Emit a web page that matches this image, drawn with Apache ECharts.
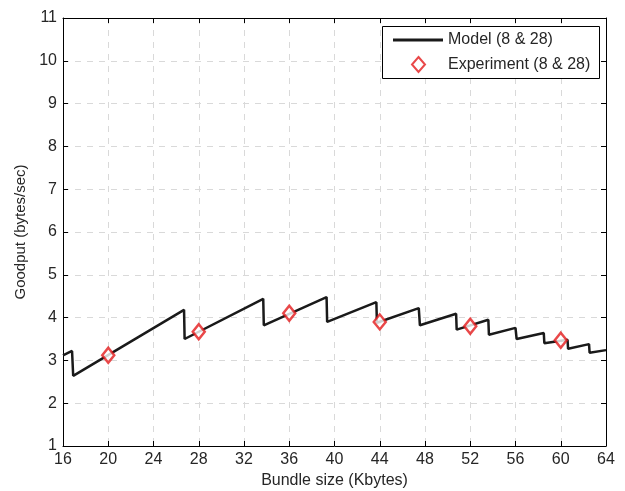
<!DOCTYPE html>
<html>
<head>
<meta charset="utf-8">
<script src="https://cdn.jsdelivr.net/npm/echarts@6/dist/echarts.min.js"></script>
<style>
  html, body { margin: 0; padding: 0; background: #fff; }
  #chart { width: 625px; height: 491px; }
</style>
</head>
<body>
<div id="chart"></div>
<script>
// model curve: [bundle size (KB), goodput]
const modelData = [
  [16, 3.12], [16.8, 3.22], [16.9, 2.64],
  [26.7, 4.18], [26.75, 3.5],
  [33.7, 4.44], [33.75, 3.82],
  [39.3, 4.48], [39.35, 3.9],
  [43.7, 4.36], [43.75, 3.88],
  [47.45, 4.22], [47.55, 3.82],
  [50.75, 4.09], [50.8, 3.72],
  [53.6, 3.95], [53.65, 3.6],
  [56.0, 3.76], [56.1, 3.5],
  [58.5, 3.64], [58.55, 3.4],
  [60.6, 3.48], [60.65, 3.27],
  [62.5, 3.38], [62.55, 3.18],
  [64, 3.24],
];
const experimentData = [
  [20, 3.12], [28, 3.67], [36, 4.1], [44, 3.9], [52, 3.8], [60, 3.47],
];
const seriesNames = ["Model (8 & 28)", "Experiment (8 & 28)"];

const font = "Liberation Sans, Arial, sans-serif";
const textColor = "#262626";
const red = "#e41a1c";

const chart = echarts.init(document.getElementById("chart"));

// matlab look: ticks inside, box all round
const boxAxis = {
  axisLine: { show: true, onZero: false, lineStyle: { color: "#000", width: 1 } },
  axisTick: { show: true, inside: true, length: 5, lineStyle: { color: "#000" } },
};

chart.setOption({
  backgroundColor: "#fff",
  animation: false,
  grid: { left: 63, right: 19, top: 18, bottom: 45, outerBoundsMode: "none", containLabel: false },
  xAxis: [
    {
      type: "value",
      min: 16, max: 64, interval: 4,
      position: "bottom",
      ...boxAxis,
      axisLabel: { color: textColor, fontFamily: font, fontSize: 16, margin: 6 },
      splitLine: { show: true, lineStyle: { color: "#d9d9d9", type: [6, 6] } },
      name: "Bundle size (Kbytes)",
      nameLocation: "middle",
      nameGap: 27,
      nameTextStyle: { color: textColor, fontFamily: font, fontSize: 16 },
    },
    {
      type: "value",
      min: 16, max: 64, interval: 4,
      position: "top",
      ...boxAxis,
      axisLabel: { show: false },
      splitLine: { show: false },
    },
  ],
  yAxis: [
    {
      type: "value",
      min: 1, max: 11, interval: 1,
      position: "left",
      ...boxAxis,
      axisLabel: { color: textColor, fontFamily: font, fontSize: 16, margin: 6 },
      splitLine: { show: true, lineStyle: { color: "#d9d9d9", type: [6, 6] } },
      name: "Goodput (bytes/sec)",
      nameLocation: "middle",
      nameGap: 35,
      nameTextStyle: { color: textColor, fontFamily: font, fontSize: 15 },
    },
    {
      type: "value",
      min: 1, max: 11, interval: 1,
      position: "right",
      ...boxAxis,
      axisLabel: { show: false },
      splitLine: { show: false },
    },
  ],
  // legend box frame
  graphic: [
    {
      type: "rect",
      z: 1,
      shape: { x: 382.5, y: 26.5, width: 217, height: 52 },
      style: { fill: "#fff", stroke: "#000", lineWidth: 1 },
    },
  ],
  legend: [
    {
      left: 393,
      top: 32,
      padding: 0,
      itemWidth: 50,
      itemHeight: 14,
      textStyle: { color: textColor, fontFamily: font, fontSize: 16 },
      data: [{ name: seriesNames[0], icon: "path://M0,0 L50,0 L50,3 L0,3 Z" }],
    },
    {
      left: 411,
      top: 56,
      padding: 0,
      itemWidth: 13,
      itemHeight: 15,
      textStyle: {
        color: textColor, fontFamily: font, fontSize: 16,
        rich: { t: { color: textColor, fontFamily: font, fontSize: 16, padding: [0, 0, 0, 18] } },
      },
      formatter: (name) => "{t|" + name + "}",
      data: [{ name: seriesNames[1], icon: "diamond" }],
    },
  ],
  series: [
    {
      name: seriesNames[0],
      type: "line",
      data: modelData,
      showSymbol: false,
      symbol: "none",
      lineStyle: { color: "#1a1a1a", width: 2.5 },
      itemStyle: { color: "#1a1a1a" },
      z: 3,
    },
    {
      name: seriesNames[1],
      type: "scatter",
      data: experimentData,
      symbol: "diamond",
      symbolSize: [12, 15],
      itemStyle: { color: "#fff", borderColor: red, borderWidth: 2.5 },
      z: 4,
    },
  ],
});
</script>
</body>
</html>
